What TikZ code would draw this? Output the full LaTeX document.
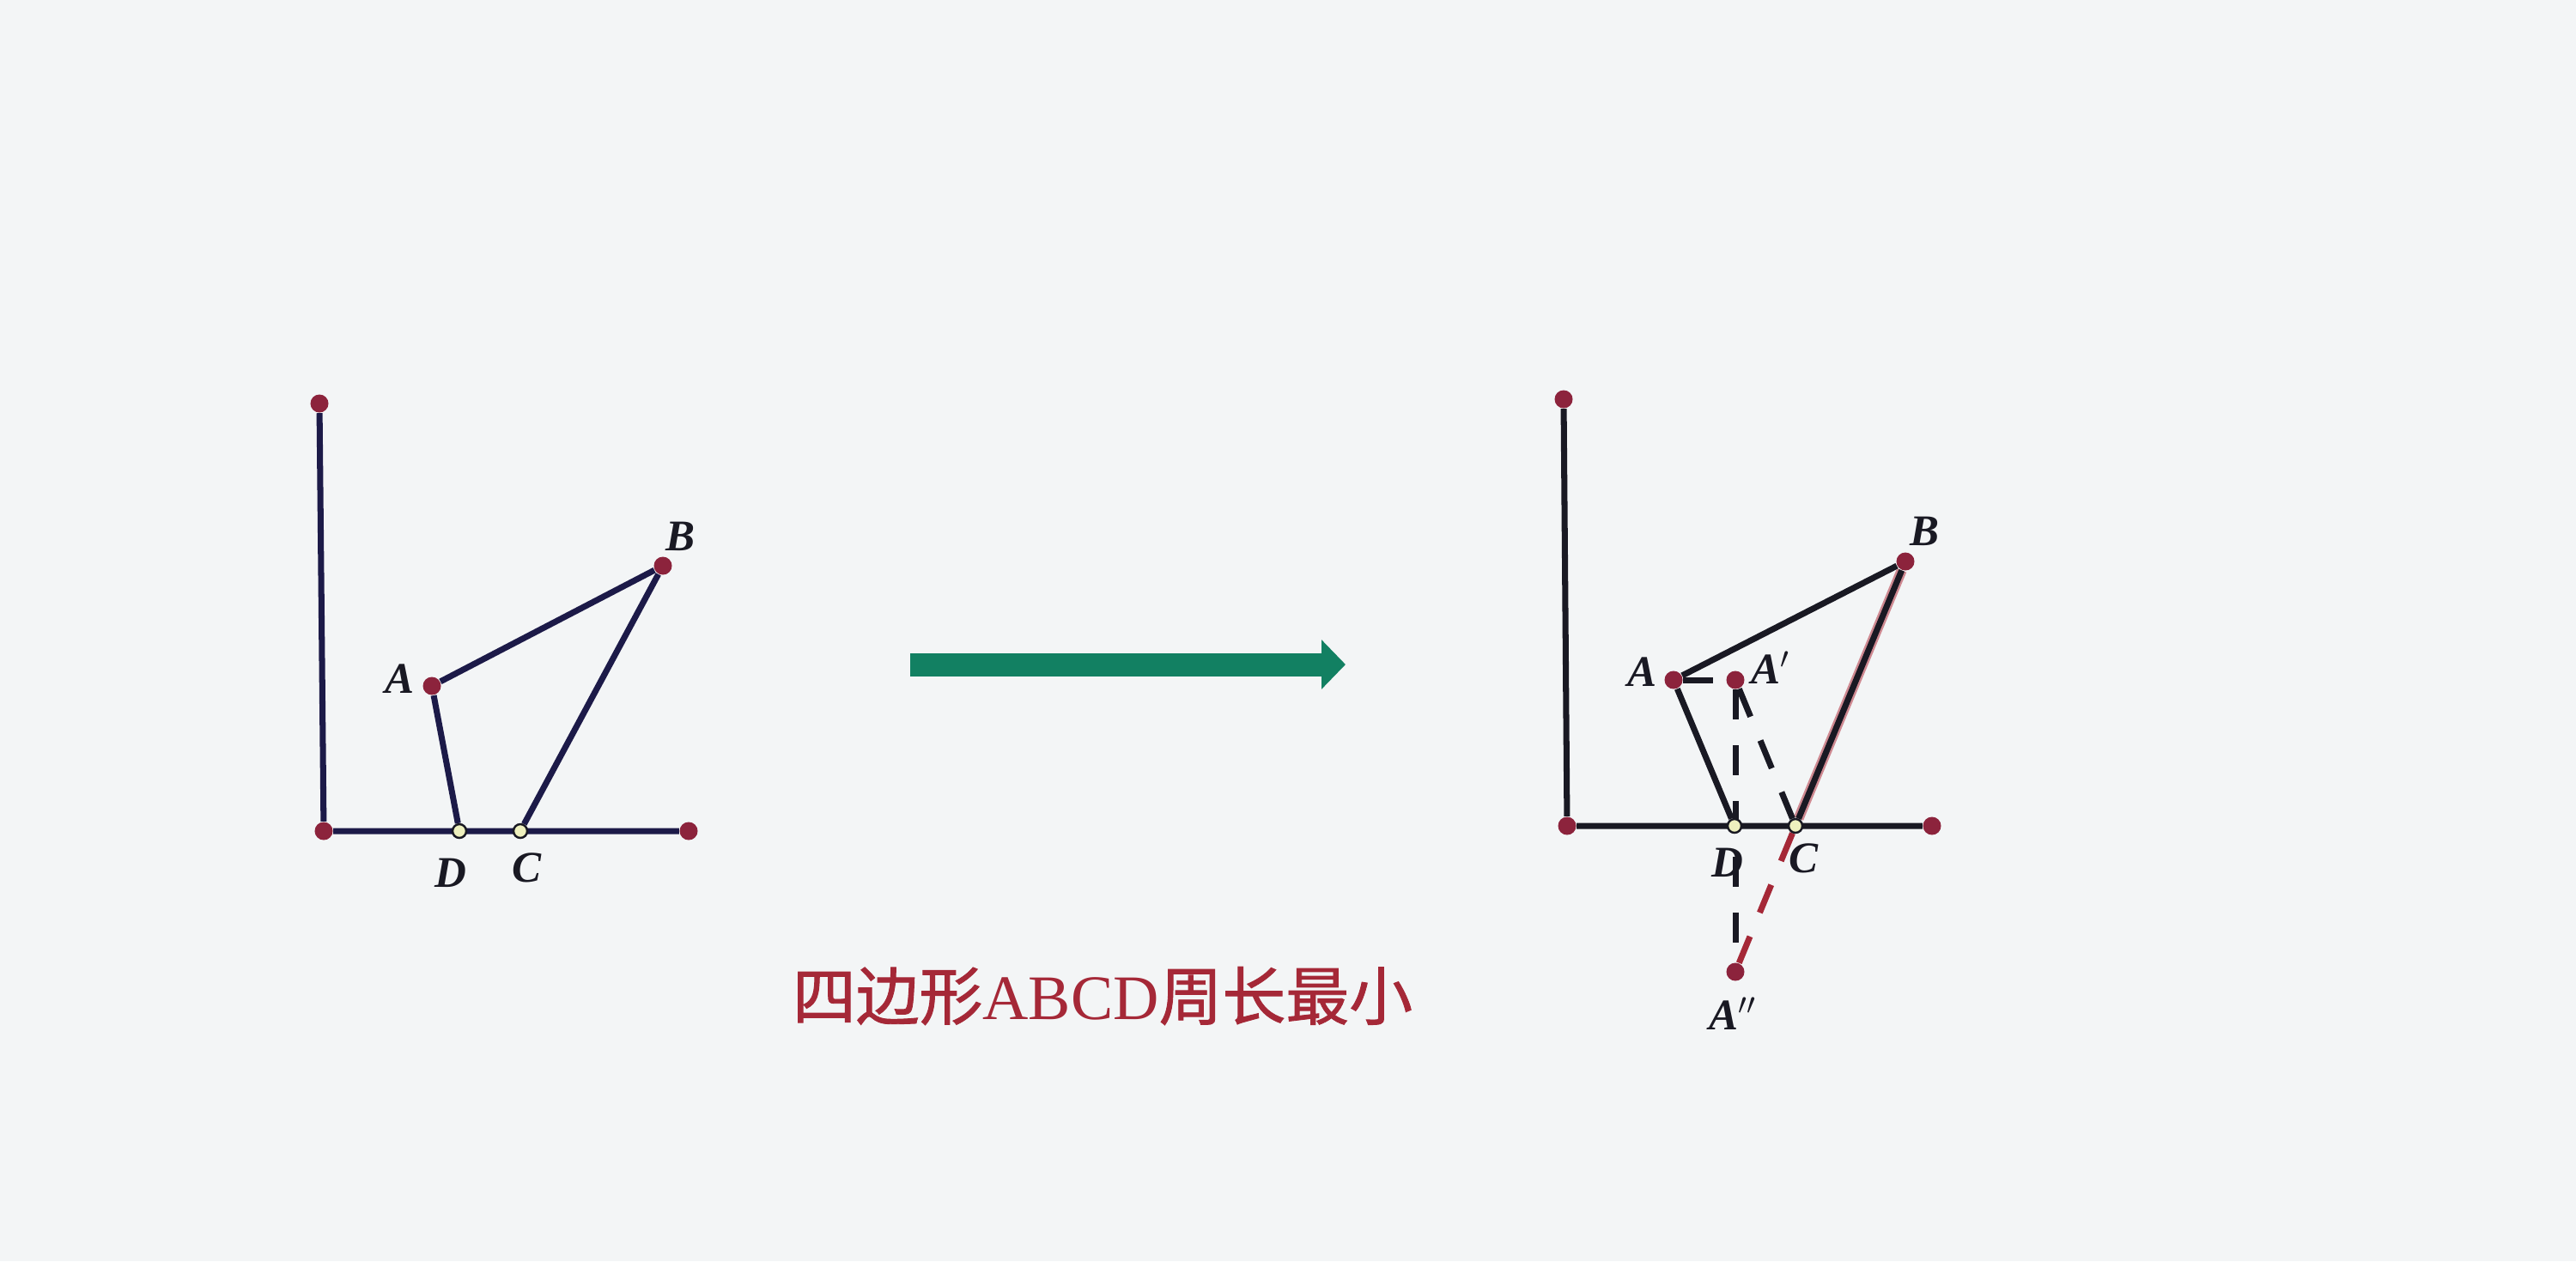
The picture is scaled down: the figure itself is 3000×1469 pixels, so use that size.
\documentclass[tikz,border=0pt]{standalone}
\usepackage{fontspec}
\setmainfont{Liberation Serif}
\newfontfamily\cjk[AutoFakeBold=1.2]{Noto Sans CJK SC}
\usetikzlibrary{backgrounds}
\usetikzlibrary{positioning,arrows.meta}
\definecolor{dotred}{RGB}{140,35,60}
\definecolor{navy}{RGB}{28,26,72}
\definecolor{ink}{RGB}{25,25,35}
\definecolor{arrowgreen}{RGB}{18,128,98}
\definecolor{capred}{RGB}{165,40,55}
\definecolor{paper}{RGB}{243,245,246}
\definecolor{pale}{RGB}{238,240,190}

\begin{document}
\begin{tikzpicture}[x=0.01cm,y=-0.01cm,
every node/.style={inner sep=0pt},
dot/.style={circle,fill=dotred,minimum size=0.21cm},
hollow/.style={circle,draw=ink,line width=0.7pt,fill=pale,minimum size=0.16cm},
lbl/.style={font=\fontsize{14.5}{16}\selectfont\bfseries\itshape,text=ink},
seg/.style={line width=2pt,draw},
aux/.style={line width=2pt,draw,dash pattern=on 0.35cm off 0.3cm}]
\useasboundingbox (0,0) rectangle (3000,1469);
% left figure
\node[dot] (lO) at (377,968) {};
\node[dot] (lY) at (372,470) {};
\node[dot] (lX) at (802,968) {};
\node[dot] (lA) at (503,799) {};
\node[dot] (lB) at (772,659) {};
\node[hollow] (lD) at (535,968) {};
\node[hollow] (lC) at (606,968) {};
\node[lbl] (lAt) at (465,791) {A};
\node[lbl] (lBt) at (792,625) {B};
\node[lbl] (lDt) at (525,1017) {D};
\node[lbl] (lCt) at (613,1011) {C};
% right figure
\node[dot] (rO) at (1825,962) {};
\node[dot] (rY) at (1821,465) {};
\node[dot] (rX) at (2250,962) {};
\node[dot] (rA) at (1949,792) {};
\node[dot] (rA1) at (2021,792) {};
\node[dot] (rB) at (2219,654) {};
\node[dot] (rA2) at (2021,1132) {};
\node[hollow] (rD) at (2020,962) {};
\node[hollow] (rC) at (2091,962) {};
\node[lbl] (rAt) at (1912,783) {A};
\node[lbl] (rA1t) at (2062,778) {A$'$};
\node[lbl] (rBt) at (2241,619) {B};
\node[lbl] (rDt) at (2012,1005) {D};
\node[lbl] (rCt) at (2100,1000) {C};
\node[lbl] (rA2t) at (2018,1181) {A$''$};
% arrow and caption
\coordinate (go) at (1060,774);
\coordinate (stop) at (1567,774);
\node[font=\fontsize{21}{24}\selectfont,text=capred] (cap) at (1284,1160)
  {{\cjk\bfseries 四边形}ABCD{\cjk\bfseries 周长最小}};
\begin{scope}[on background layer]
\fill[paper] (0,0) rectangle (3000,1469);
\draw[seg,navy] (lY) -- (lO) -- (lX);
\draw[seg,navy] (lB) -- (lA) -- (lD);
\draw[seg,navy] (lB) -- (lC);
\draw[seg,ink] (rY) -- (rO) -- (rX);
\draw[line width=3.4pt,capred!55] (rB) -- (rC);
\draw[seg,ink] (rB) -- (rA) -- (rD);
\draw[seg,ink] (rB) -- (rC);
\draw[aux,ink] (rA) -- (rA1);
\draw[aux,ink] (rA1) -- (rA2);
\draw[aux,ink] (rA1) -- (rC);
\draw[aux,capred] (rC) -- (rA2);
\draw[arrowgreen,line width=0.27cm,-{Triangle[length=0.28cm,width=0.56cm]}] (go) -- (stop);
\end{scope}
\end{tikzpicture}
\end{document}
